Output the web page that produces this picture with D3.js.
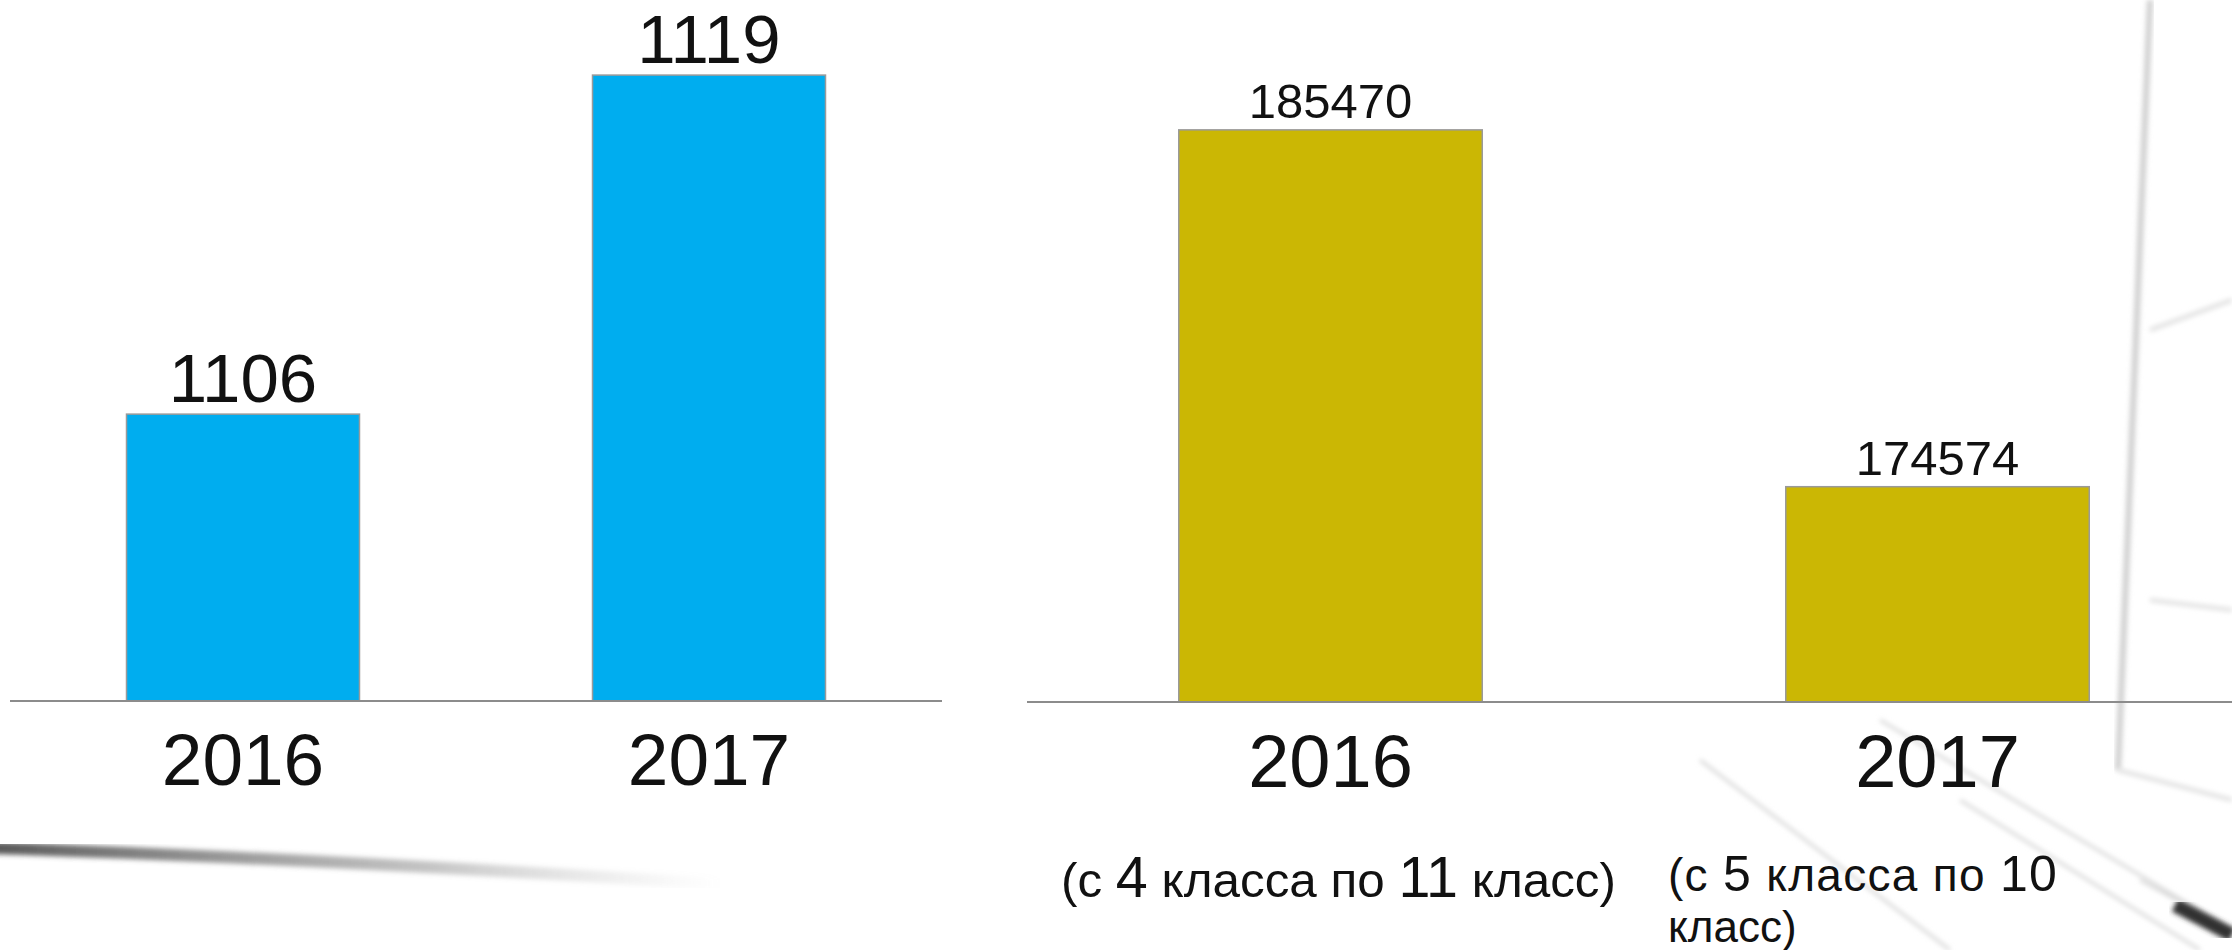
<!DOCTYPE html>
<html lang="ru">
<head>
    <meta charset="UTF-8" />
    <title>Школы и учащиеся 2016–2017</title>
    <script src="https://d3js.org/d3.v7.min.js"></script>
    <style>
        html, body {
            margin: 0;
            padding: 0;
            background-color: #ffffff;
        }
        svg {
            display: block;
            font-family: 'Liberation Sans', Arial, sans-serif;
        }
        .axis-line {
            stroke: #8c8c8c;
            stroke-width: 2px;
        }
        .bar {
            stroke: #9a9a9a;
            stroke-width: 1.5px;
        }
        .value-label, .year-label, .note {
            fill: #111;
            text-anchor: middle;
        }
        .note {
            text-anchor: start;
        }
    </style>
</head>
<body>
    <svg id="chart"></svg>

    <script>
        // Chart data
        const years = ["2016", "2017"];
        const schools = [1106, 1119];
        const students = [185470, 174574];
        // Value axis extents (axes themselves are hidden in the original)
        const schoolsDomain = [1095, 1120];
        const studentsDomain = [168000, 188000];
        // Notes under the second chart, already split into lines
        const gradeNotes = [
            ["(с 4 класса по 11 класс)"],
            ["(с 5 класса по 10", "класс)"]
        ];

        const W = 2232, H = 950;

        const svg = d3.select("#chart")
            .attr("width", W)
            .attr("height", H);

        // --- faint sketchy background, like the slide theme ---
        const defs = svg.append("defs");
        defs.append("filter").attr("id", "soft")
            .append("feGaussianBlur").attr("stdDeviation", 2.5);
        const grad = defs.append("linearGradient").attr("id", "smear")
            .attr("x1", "0%").attr("x2", "100%");
        grad.append("stop").attr("offset", "0%").attr("stop-color", "#444").attr("stop-opacity", 0.9);
        grad.append("stop").attr("offset", "60%").attr("stop-color", "#888").attr("stop-opacity", 0.5);
        grad.append("stop").attr("offset", "100%").attr("stop-color", "#bbb").attr("stop-opacity", 0);

        const bg = svg.append("g").attr("class", "backdrop");
        bg.append("path")
            .attr("d", "M-10,848 Q300,858 720,884")
            .attr("fill", "none")
            .attr("stroke", "url(#smear)")
            .attr("stroke-width", 12)
            .attr("filter", "url(#soft)");
        bg.append("path")
            .attr("d", "M2150,0 L2118,770")
            .attr("fill", "none")
            .attr("stroke", "#cfcfcf")
            .attr("stroke-width", 6)
            .attr("filter", "url(#soft)");
        bg.append("path")
            .attr("d", "M2150,330 L2232,300 M2150,600 L2232,610 M2118,770 L2232,800")
            .attr("fill", "none")
            .attr("stroke", "#e0e0e0")
            .attr("stroke-width", 4)
            .attr("filter", "url(#soft)");
        bg.append("path")
            .attr("d", "M1880,720 L2232,930 M1960,800 L2200,950 M1700,760 L1950,950 M2140,880 L2232,930")
            .attr("fill", "none")
            .attr("stroke", "#d8d8d8")
            .attr("stroke-width", 3)
            .attr("filter", "url(#soft)");
        bg.append("path")
            .attr("d", "M2175,905 L2232,935")
            .attr("fill", "none")
            .attr("stroke", "#333")
            .attr("stroke-width", 14)
            .attr("filter", "url(#soft)");

        // --- left chart: number of schools ---
        const xLeft = d3.scaleBand()
            .domain(years)
            .range([10, 942])
            .paddingInner(0.5)
            .paddingOuter(0.25);

        const yLeft = d3.scaleLinear()
            .domain(schoolsDomain)
            .range([701, 49]);

        const left = svg.append("g").attr("class", "chart-left");

        left.selectAll(".bar")
            .data(years)
            .enter()
            .append("rect")
            .attr("class", "bar")
            .attr("x", d => xLeft(d))
            .attr("y", (d, i) => yLeft(schools[i]))
            .attr("width", xLeft.bandwidth())
            .attr("height", (d, i) => yLeft(schoolsDomain[0]) - yLeft(schools[i]))
            .attr("fill", "#00adef");

        left.append("line")
            .attr("class", "axis-line")
            .attr("x1", xLeft.range()[0])
            .attr("x2", xLeft.range()[1])
            .attr("y1", yLeft(schoolsDomain[0]))
            .attr("y2", yLeft(schoolsDomain[0]));

        left.selectAll(".value-label")
            .data(years)
            .enter()
            .append("text")
            .attr("class", "value-label")
            .attr("x", d => xLeft(d) + xLeft.bandwidth() / 2)
            .attr("y", (d, i) => yLeft(schools[i]) - 12)
            .style("font-size", "69px")
            .text((d, i) => schools[i]);

        left.selectAll(".year-label")
            .data(years)
            .enter()
            .append("text")
            .attr("class", "year-label")
            .attr("x", d => xLeft(d) + xLeft.bandwidth() / 2)
            .attr("y", 785)
            .style("font-size", "73px")
            .text(d => d);

        // --- right chart: number of students ---
        const xRight = d3.scaleBand()
            .domain(years)
            .range([1027, 2241])
            .paddingInner(0.5)
            .paddingOuter(0.25);

        const yRight = d3.scaleLinear()
            .domain(studentsDomain)
            .range([702, 47]);

        const right = svg.append("g").attr("class", "chart-right");

        right.selectAll(".bar")
            .data(years)
            .enter()
            .append("rect")
            .attr("class", "bar")
            .attr("x", d => xRight(d))
            .attr("y", (d, i) => yRight(students[i]))
            .attr("width", xRight.bandwidth())
            .attr("height", (d, i) => yRight(studentsDomain[0]) - yRight(students[i]))
            .attr("fill", "#cbb704");

        right.append("line")
            .attr("class", "axis-line")
            .attr("x1", xRight.range()[0])
            .attr("x2", xRight.range()[1])
            .attr("y1", yRight(studentsDomain[0]))
            .attr("y2", yRight(studentsDomain[0]));

        right.selectAll(".value-label")
            .data(years)
            .enter()
            .append("text")
            .attr("class", "value-label")
            .attr("x", d => xRight(d) + xRight.bandwidth() / 2)
            .attr("y", (d, i) => yRight(students[i]) - 12)
            .style("font-size", "49px")
            .text((d, i) => students[i]);

        right.selectAll(".year-label")
            .data(years)
            .enter()
            .append("text")
            .attr("class", "year-label")
            .attr("x", d => xRight(d) + xRight.bandwidth() / 2)
            .attr("y", 787)
            .style("font-size", "74px")
            .text(d => d);

        // notes: left-aligned a little inside each category slot, digits set larger;
        // the wrapped note keeps its two lines tight, as on the slide
        const step = xRight.step();
        const noteStyle = [
            [{ txt: 49, num: 57, y: 897, len: 555 }],
            [{ txt: 46, num: 50, y: 891, ls: 1.3 }, { txt: 44, num: 44, y: 942 }]
        ];

        years.forEach((yr, i) => {
            const x0 = xRight(yr) - step * 0.25 + 34;
            gradeNotes[i].forEach((line, j) => {
                const s = noteStyle[i][j];
                const t = right.append("text")
                    .attr("class", "note")
                    .attr("x", x0)
                    .attr("y", s.y);
                if (s.len) t.attr("textLength", s.len).attr("lengthAdjust", "spacingAndGlyphs");
                if (s.ls) t.style("letter-spacing", s.ls + "px");
                line.split(/(\d+)/).filter(p => p.length).forEach(part => {
                    t.append("tspan")
                        .style("font-size", (/\d/.test(part) ? s.num : s.txt) + "px")
                        .text(part);
                });
            });
        });
    </script>
</body>
</html>
